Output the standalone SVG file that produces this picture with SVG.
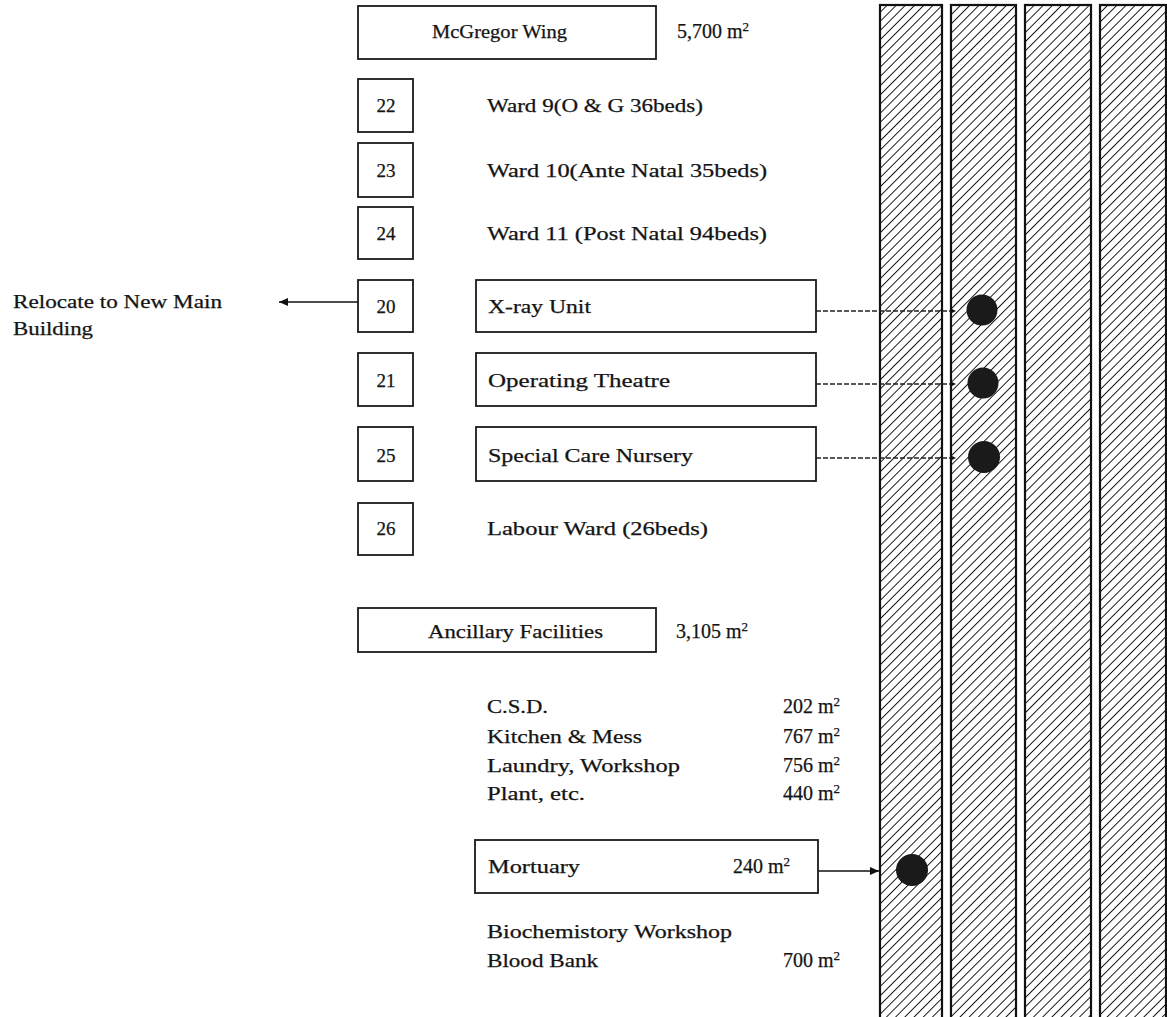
<svg xmlns="http://www.w3.org/2000/svg" width="1167" height="1017" viewBox="0 0 1167 1017">
<style>
text{font-family:"Liberation Serif","Times New Roman",serif;font-size:19px;fill:#141414;stroke:#141414;stroke-width:0.25}
.box{fill:#fff;stroke:#1a1a1a;stroke-width:1.8}
.col{fill:url(#hatch);stroke:#111;stroke-width:2.2}
.num{text-anchor:middle}
.dash{stroke:#222;stroke-width:1.3;stroke-dasharray:5 2;fill:none}
.solid{stroke:#111;stroke-width:1.6;fill:none}
.dot{fill:#1a1a1a}
.sup{font-size:13px}
.area{font-size:20px}
</style>
<defs>
<pattern id="hatch" patternUnits="userSpaceOnUse" width="6.5" height="6.5" patternTransform="rotate(45)">
<rect width="6.5" height="6.5" fill="#fff"/>
<line x1="0" y1="0" x2="0" y2="6.5" stroke="#111" stroke-width="1.9"/>
</pattern>
<marker id="ah" markerWidth="10" markerHeight="10" refX="9" refY="5" orient="auto" markerUnits="userSpaceOnUse">
<path d="M0 1 L9 5 L0 9 Z" fill="#111"/>
</marker>
<marker id="ahs" markerWidth="6" markerHeight="6" refX="5" refY="3" orient="auto" markerUnits="userSpaceOnUse">
<path d="M0 0.5 L5 3 L0 5.5 Z" fill="#111"/>
</marker>
</defs>

<g id="columns">
<rect class="col" x="880" y="5" width="62" height="1020"/>
<rect class="col" x="951" y="5" width="65" height="1020"/>
<rect class="col" x="1025" y="5" width="66" height="1020"/>
<rect class="col" x="1100" y="5" width="66" height="1020"/>
</g>

<g id="connectors">
<line class="solid" x1="358" y1="302" x2="279" y2="302" marker-end="url(#ah)"/>
<line class="dash" x1="816" y1="311" x2="956" y2="311" marker-end="url(#ahs)"/>
<line class="dash" x1="816" y1="384" x2="956" y2="384" marker-end="url(#ahs)"/>
<line class="dash" x1="816" y1="458" x2="956" y2="458" marker-end="url(#ahs)"/>
<line class="solid" x1="818" y1="871" x2="879" y2="871" marker-end="url(#ah)"/>
</g>

<g id="dots">
<circle class="dot" cx="982" cy="310" r="15.5"/>
<circle class="dot" cx="983" cy="383" r="15.5"/>
<circle class="dot" cx="984" cy="457" r="16"/>
<circle class="dot" cx="912" cy="870" r="16"/>
</g>

<g id="mcgregor">
<rect class="box" x="358" y="6" width="298" height="53"/>
<text x="432" y="38" textLength="135" lengthAdjust="spacingAndGlyphs">McGregor Wing</text>
<text class="area" x="677" y="38">5,700 m<tspan class="sup" dy="-7">2</tspan></text>
</g>

<g id="n22">
<rect class="box" x="358" y="79" width="55" height="53"/>
<text class="num" x="386" y="112">22</text>
<text x="487" y="112" textLength="216" lengthAdjust="spacingAndGlyphs">Ward 9(O &amp; G 36beds)</text>
</g>
<g id="n23">
<rect class="box" x="358" y="143" width="55" height="54"/>
<text class="num" x="386" y="177">23</text>
<text x="487" y="177" textLength="280" lengthAdjust="spacingAndGlyphs">Ward 10(Ante Natal 35beds)</text>
</g>
<g id="n24">
<rect class="box" x="358" y="207" width="55" height="52"/>
<text class="num" x="386" y="240">24</text>
<text x="487" y="240" textLength="280" lengthAdjust="spacingAndGlyphs">Ward 11 (Post Natal 94beds)</text>
</g>

<g id="relocate">
<text x="13" y="308" textLength="209" lengthAdjust="spacingAndGlyphs">Relocate to New Main</text>
<text x="13" y="335" textLength="80" lengthAdjust="spacingAndGlyphs">Building</text>
</g>

<g id="n20">
<rect class="box" x="358" y="280" width="55" height="52"/>
<text class="num" x="386" y="313">20</text>
</g>
<g id="xray">
<rect class="box" x="476" y="280" width="340" height="52"/>
<text x="488" y="313" textLength="103" lengthAdjust="spacingAndGlyphs">X-ray Unit</text>
</g>
<g id="n21">
<rect class="box" x="358" y="353" width="55" height="53"/>
<text class="num" x="386" y="387">21</text>
</g>
<g id="theatre">
<rect class="box" x="476" y="353" width="340" height="53"/>
<text x="488" y="387" textLength="182" lengthAdjust="spacingAndGlyphs">Operating Theatre</text>
</g>
<g id="n25">
<rect class="box" x="358" y="427" width="55" height="54"/>
<text class="num" x="386" y="462">25</text>
</g>
<g id="nursery">
<rect class="box" x="476" y="427" width="340" height="54"/>
<text x="488" y="462" textLength="205" lengthAdjust="spacingAndGlyphs">Special Care Nursery</text>
</g>
<g id="n26">
<rect class="box" x="358" y="503" width="55" height="52"/>
<text class="num" x="386" y="535">26</text>
<text x="487" y="535" textLength="221" lengthAdjust="spacingAndGlyphs">Labour Ward (26beds)</text>
</g>

<g id="ancillary">
<rect class="box" x="358" y="608" width="298" height="44"/>
<text x="428" y="638" textLength="175" lengthAdjust="spacingAndGlyphs">Ancillary Facilities</text>
<text class="area" x="676" y="638">3,105 m<tspan class="sup" dy="-7">2</tspan></text>
</g>

<g id="ancillary-list">
<text x="487" y="713" textLength="61" lengthAdjust="spacingAndGlyphs">C.S.D.</text>
<text class="area" x="840" y="713" text-anchor="end">202 m<tspan class="sup" dy="-7">2</tspan></text>
<text x="487" y="743" textLength="155" lengthAdjust="spacingAndGlyphs">Kitchen &amp; Mess</text>
<text class="area" x="840" y="743" text-anchor="end">767 m<tspan class="sup" dy="-7">2</tspan></text>
<text x="487" y="772" textLength="193" lengthAdjust="spacingAndGlyphs">Laundry, Workshop</text>
<text class="area" x="840" y="772" text-anchor="end">756 m<tspan class="sup" dy="-7">2</tspan></text>
<text x="487" y="800" textLength="98" lengthAdjust="spacingAndGlyphs">Plant, etc.</text>
<text class="area" x="840" y="800" text-anchor="end">440 m<tspan class="sup" dy="-7">2</tspan></text>
</g>

<g id="mortuary">
<rect class="box" x="475" y="840" width="343" height="53"/>
<text x="488" y="873" textLength="92" lengthAdjust="spacingAndGlyphs">Mortuary</text>
<text class="area" x="790" y="873" text-anchor="end">240 m<tspan class="sup" dy="-7">2</tspan></text>
</g>

<g id="biochem">
<text x="487" y="938" textLength="245" lengthAdjust="spacingAndGlyphs">Biochemistory Workshop</text>
<text x="487" y="967" textLength="111" lengthAdjust="spacingAndGlyphs">Blood Bank</text>
<text class="area" x="840" y="967" text-anchor="end">700 m<tspan class="sup" dy="-7">2</tspan></text>
</g>
</svg>
